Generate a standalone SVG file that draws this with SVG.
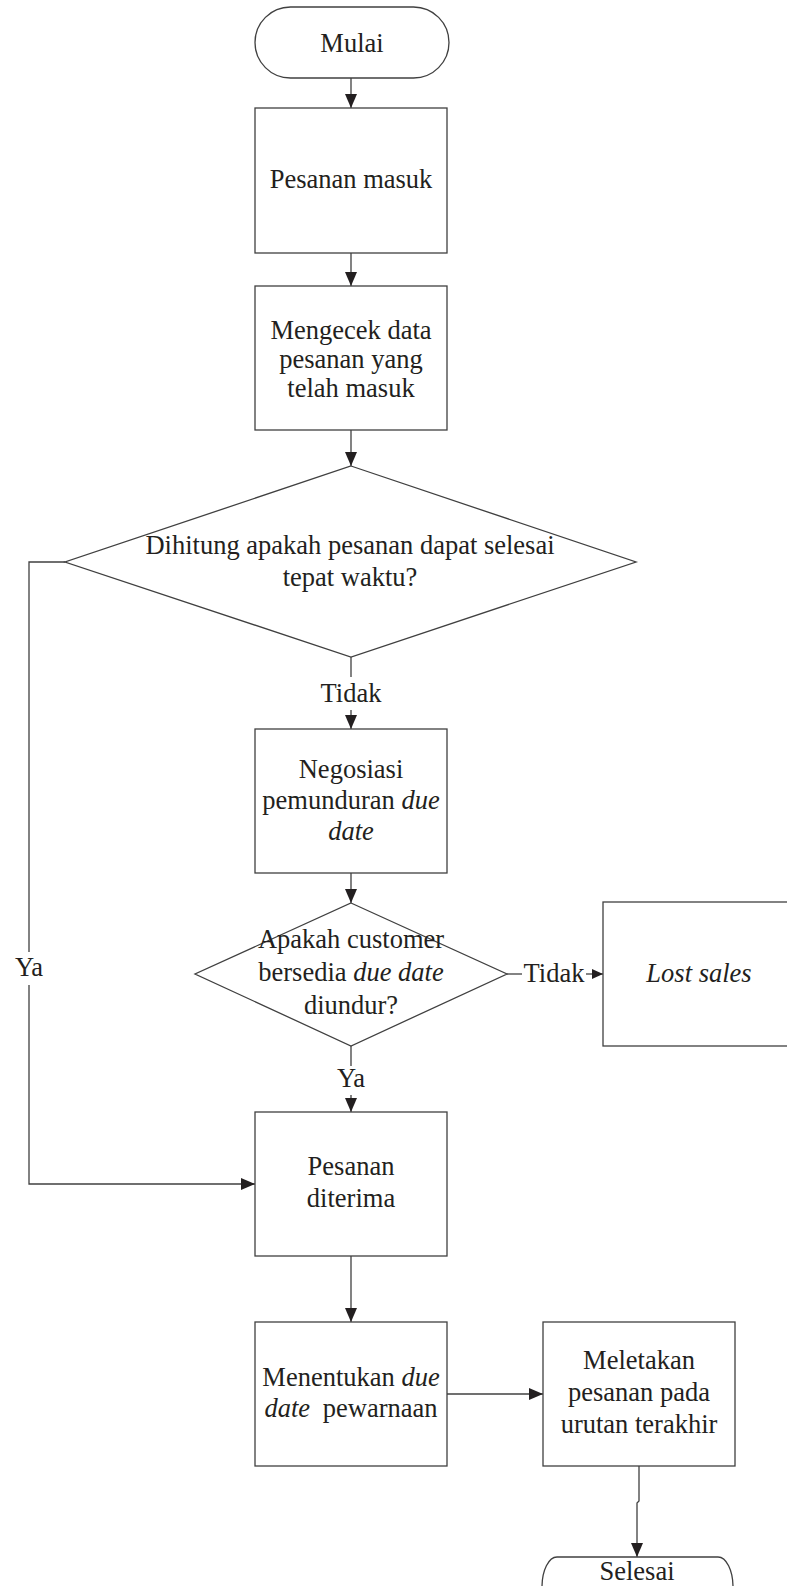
<svg xmlns="http://www.w3.org/2000/svg" width="787" height="1586" viewBox="0 0 787 1586">
<style>
.s{fill:#fff;stroke:#404040;stroke-width:1.3}
.c{fill:none;stroke:#404040;stroke-width:1.3}
.t{font-family:"Liberation Serif","Times New Roman",serif;font-size:26.5px;fill:#231f20;text-anchor:middle}
.i{font-style:italic}
</style>
<defs>
<marker id="ar" markerUnits="userSpaceOnUse" markerWidth="15" markerHeight="13" refX="14" refY="6" orient="auto">
<path d="M0,0 L14,6 L0,12 z" fill="#231f20"/>
</marker>
<marker id="ars" markerUnits="userSpaceOnUse" markerWidth="12" markerHeight="11" refX="11" refY="5" orient="auto">
<path d="M0,0 L11,5 L0,10 z" fill="#231f20"/>
</marker>
</defs>
<rect width="787" height="1586" fill="#fff"/>
<g id="connectors">
<line class="c" x1="351" y1="78" x2="351" y2="108" marker-end="url(#ar)"/>
<line class="c" x1="351" y1="253" x2="351" y2="286" marker-end="url(#ar)"/>
<line class="c" x1="351" y1="430" x2="351" y2="466" marker-end="url(#ar)"/>
<line class="c" x1="351" y1="657" x2="351" y2="677"/>
<line class="c" x1="351" y1="710" x2="351" y2="729" marker-end="url(#ar)"/>
<line class="c" x1="351" y1="873" x2="351" y2="903" marker-end="url(#ar)"/>
<line class="c" x1="351" y1="1046" x2="351" y2="1066"/>
<line class="c" x1="351" y1="1095" x2="351" y2="1112" marker-end="url(#ar)"/>
<line class="c" x1="507" y1="974" x2="522" y2="974"/>
<line class="c" x1="586" y1="974" x2="603" y2="974" marker-end="url(#ars)"/>
<polyline class="c" points="65,562 29,562 29,952"/>
<polyline class="c" points="29,985 29,1184 255,1184" marker-end="url(#ar)"/>
<line class="c" x1="351" y1="1256" x2="351" y2="1322" marker-end="url(#ar)"/>
<line class="c" x1="447" y1="1394" x2="543" y2="1394" marker-end="url(#ar)"/>
<polyline class="c" points="639,1466 639,1501 637,1503 637,1557" marker-end="url(#ar)"/>
<text class="t" x="351" y="702">Tidak</text>
<text class="t" x="351" y="1087">Ya</text>
<text class="t" x="554" y="982">Tidak</text>
<text class="t" x="29" y="976">Ya</text>
</g>
<g id="mulai">
<rect class="s" x="255" y="7" width="194" height="71" rx="35.5" ry="35.5"/>
<text class="t" x="352" y="52">Mulai</text>
</g>
<g id="pesanan-masuk">
<rect class="s" x="255" y="108" width="192" height="145"/>
<text class="t" x="351" y="188">Pesanan masuk</text>
</g>
<g id="mengecek">
<rect class="s" x="255" y="286" width="192" height="144"/>
<text class="t" x="351" y="339">Mengecek data</text>
<text class="t" x="351" y="368">pesanan yang</text>
<text class="t" x="351" y="397">telah masuk</text>
</g>
<g id="dihitung">
<polygon class="s" points="351,466 636,562 351,657 65,562"/>
<text class="t" x="350" y="554">Dihitung apakah pesanan dapat selesai</text>
<text class="t" x="350" y="586">tepat waktu?</text>
</g>
<g id="negosiasi">
<rect class="s" x="255" y="729" width="192" height="144"/>
<text class="t" x="351" y="778">Negosiasi</text>
<text class="t" x="351" y="809">pemunduran <tspan class="i">due</tspan></text>
<text class="t i" x="351" y="840">date</text>
</g>
<g id="apakah">
<polygon class="s" points="351,903 507,974 351,1046 195,974"/>
<text class="t" x="351" y="948">Apakah customer</text>
<text class="t" x="351" y="981">bersedia <tspan class="i">due date</tspan></text>
<text class="t" x="351" y="1014">diundur?</text>
</g>
<g id="lost-sales">
<rect class="s" x="603" y="902" width="192" height="144"/>
<text class="t i" x="699" y="982">Lost sales</text>
</g>
<g id="diterima">
<rect class="s" x="255" y="1112" width="192" height="144"/>
<text class="t" x="351" y="1175">Pesanan</text>
<text class="t" x="351" y="1207">diterima</text>
</g>
<g id="menentukan">
<rect class="s" x="255" y="1322" width="192" height="144"/>
<text class="t" x="351" y="1386">Menentukan <tspan class="i">due</tspan></text>
<text class="t" x="351" y="1417"><tspan class="i">date</tspan><tspan dx="6"> pewarnaan</tspan></text>
</g>
<g id="meletakan">
<rect class="s" x="543" y="1322" width="192" height="144"/>
<text class="t" x="639" y="1369">Meletakan</text>
<text class="t" x="639" y="1401">pesanan pada</text>
<text class="t" x="639" y="1433">urutan terakhir</text>
</g>
<g id="selesai">
<rect class="s" x="542" y="1557" width="191" height="60" rx="15" ry="30"/>
<text class="t" x="637" y="1580">Selesai</text>
</g>
</svg>
